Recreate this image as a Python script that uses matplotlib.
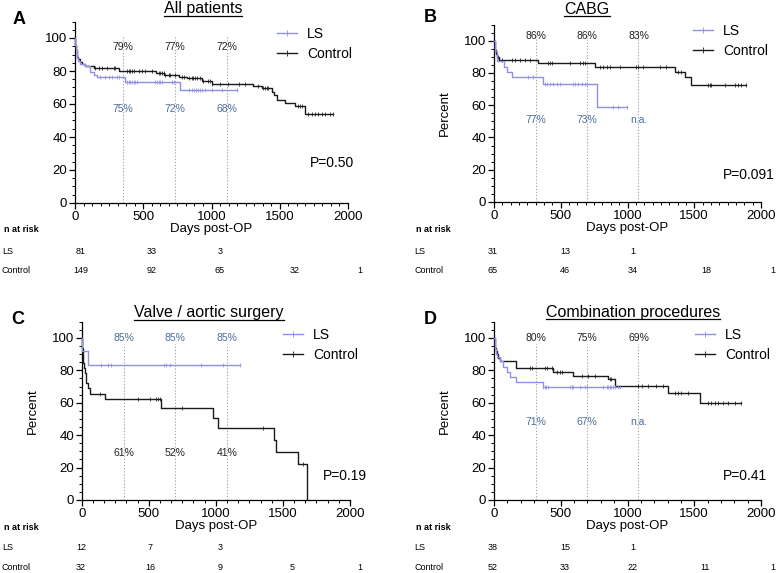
import numpy as np
import matplotlib
matplotlib.use("Agg")
import matplotlib.pyplot as plt
from matplotlib.lines import Line2D
from matplotlib.ticker import MultipleLocator

plt.rcParams["font.family"] = ["Liberation Sans", "DejaVu Sans"]

W, H = 778, 573
LS_COLOR = "#8f8fe6"
CTRL_COLOR = "#1a1a1a"
LS_TEXT = "#4a6d9c"

# ---- Kaplan-Meier curves: (event day, survival % after it), last follow-up day, censor days ----
A_ls_t = [0, 3, 7, 12, 18, 25, 40, 76, 112, 137, 161, 368, 771]
A_ls_s = [100, 96, 92.5, 90, 88, 86, 84.5, 83, 79.6, 77.6, 76.6, 73.2, 68.5]
A_ls_end = 1185
A_ls_cens = [185, 222, 246, 270, 307, 320, 380, 392, 405, 418, 430, 442, 453, 588, 600,
             612, 624, 636, 710, 722, 832, 855, 870, 885, 900, 915, 930, 953, 1002, 1075, 1185]
A_ctrl_t = [0, 3, 7, 12, 18, 25, 35, 50, 75, 140, 320, 590, 650, 760, 820, 930, 1000,
            1305, 1370, 1440, 1455, 1480, 1540, 1612, 1685]
A_ctrl_s = [100, 96, 93, 90.5, 88.5, 87, 85.5, 84.5, 83.3, 81.7, 80.2, 78.6, 77.6, 76.3,
            75.6, 74, 72.2, 70.7, 69.5, 67.5, 65.5, 62.4, 60.4, 58.8, 53.7]
A_ctrl_end = 1893
A_ctrl_cens = [149, 173, 198, 234, 283, 295, 380, 393, 405, 417, 429, 466, 490, 515, 563,
               612, 624, 637, 649, 661, 685, 698, 734, 783, 795, 832, 856, 868, 880, 893,
               917, 941, 978, 990, 1002, 1063, 1124, 1198, 1246, 1344, 1380, 1393, 1405,
               1417, 1637, 1649, 1661, 1710, 1734, 1759, 1783, 1807, 1832, 1868, 1893]

B_ls_t = [0, 5, 10, 20, 75, 100, 132, 369, 773]
B_ls_s = [100, 96.8, 93.5, 87.5, 84, 80.8, 77.5, 73.3, 58.9]
B_ls_end = 993
B_ls_cens = [257, 295, 382, 395, 420, 445, 470, 494, 593, 606, 631, 656, 681, 693, 893, 930, 993]
B_ctrl_t = [0, 4, 8, 14, 22, 40, 332, 756, 1354, 1429, 1479]
B_ctrl_s = [100, 97, 94.5, 92, 90, 88, 86.3, 84, 80.8, 77.6, 72.5]
B_ctrl_end = 1890
B_ctrl_cens = [32, 57, 132, 157, 195, 232, 269, 406, 419, 431, 569, 643, 668, 681, 793, 818,
               843, 868, 943, 1067, 1080, 1117, 1242, 1292, 1379, 1404, 1604, 1617, 1629,
               1728, 1803, 1828, 1853, 1890]

C_ls_t = [0, 3, 47]
C_ls_s = [100, 91.7, 83.3]
C_ls_end = 1177
C_ls_cens = [142, 196, 221, 613, 631, 656, 892, 1053, 1177]
C_ctrl_t = [0, 2, 4, 6, 8, 10, 15, 22, 30, 35, 47, 60, 171, 594, 979, 1016, 1433, 1451, 1612, 1682]
C_ctrl_s = [100, 96.9, 93.8, 90.6, 87.5, 84.4, 81.3, 78.1, 75, 71.9, 68.8, 65.6, 62.2, 57,
            50.5, 44.4, 37, 29.6, 22.2, 0]
C_ctrl_end = 1682
C_ctrl_cens = [134, 420, 507, 556, 569, 581, 748, 1351, 1649]

D_ls_t = [0, 4, 8, 14, 22, 45, 70, 95, 120, 165, 369]
D_ls_s = [100, 96, 93, 90, 88, 86, 81.8, 78.7, 75.7, 73, 69.5]
D_ls_end = 943
D_ls_cens = [369, 380, 393, 406, 569, 581, 594, 643, 681, 693, 818, 843, 856, 868, 880,
             893, 905, 930, 943]
D_ctrl_t = [0, 4, 8, 12, 20, 30, 45, 165, 444, 594, 855, 905, 1304, 1541]
D_ctrl_s = [100, 96, 94, 92, 90, 87.5, 85.9, 81.2, 79.1, 76.7, 74.6, 70.6, 65.9, 59.6]
D_ctrl_end = 1853
D_ctrl_cens = [269, 282, 381, 394, 431, 469, 494, 506, 656, 706, 756, 868, 880, 1080, 1105,
               1155, 1217, 1267, 1354, 1379, 1404, 1454, 1604, 1629, 1654, 1679, 1716,
               1753, 1803, 1853]

# ---- survival estimates printed on the plots ----
A_marks = [353, 732, 1110]
A_ctrl_lbl = ["79%", "77%", "72%"]
A_ls_lbl = ["75%", "72%", "68%"]
B_marks = [312, 698, 1082]
B_ctrl_lbl = ["86%", "86%", "83%"]
B_ls_lbl = ["77%", "73%", "n.a."]
C_marks = [313, 697, 1082]
C_ctrl_lbl = ["61%", "52%", "41%"]
C_ls_lbl = ["85%", "85%", "85%"]
D_marks = [312, 698, 1082]
D_ctrl_lbl = ["80%", "75%", "69%"]
D_ls_lbl = ["71%", "67%", "n.a."]

# ---- numbers at risk ----
A_risk_ls = [81, 33, 3]
A_risk_ctrl = [149, 92, 65, 32, 1]
B_risk_ls = [31, 13, 1]
B_risk_ctrl = [65, 46, 34, 18, 1]
C_risk_ls = [12, 7, 3]
C_risk_ctrl = [32, 16, 9, 5, 1]
D_risk_ls = [38, 15, 1]
D_risk_ctrl = [52, 33, 22, 11, 1]


def fx(x):
    return x / W


def fy(y):
    return 1 - y / H


def km(ax, t, s, end, cens, color):
    tt = list(t) + [end]
    ss = list(s) + [s[-1]]
    ax.step(tt, ss, where="post", color=color, lw=1.0, clip_on=False, zorder=3)
    # censor ticks sit on the curve value at that day
    idx = np.searchsorted(np.array(t), np.array(cens), side="right") - 1
    cv = np.array(s)[idx]
    ax.plot(cens, cv, ls="none", marker="|", ms=3.2, mew=0.55, color=color,
            clip_on=False, zorder=3)


panels = [
    dict(letter="A", title="All patients", box=(75, 203, 348, 21.5), minor=62.5, ylabel=False,
         ls=(A_ls_t, A_ls_s, A_ls_end, A_ls_cens), ctrl=(A_ctrl_t, A_ctrl_s, A_ctrl_end, A_ctrl_cens),
         marks=A_marks, vtop=101, ctrl_lbl=A_ctrl_lbl, ctrl_y=94.7, ls_lbl=A_ls_lbl, ls_y=57,
         p="P=0.50", p_pos=(310, 163), leg=(277, 27), letter_pos=(19, 20), title_pos=(203, 13.5),
         risk_x=[81, 152, 220, 295, 360], risk_lab_x=2, risk_y=(230, 251, 271),
         risk_ls=A_risk_ls, risk_ctrl=A_risk_ctrl),
    dict(letter="B", title="CABG", box=(494, 202, 761, 24.6), minor=62.5, ylabel=True,
         ls=(B_ls_t, B_ls_s, B_ls_end, B_ls_cens), ctrl=(B_ctrl_t, B_ctrl_s, B_ctrl_end, B_ctrl_cens),
         marks=B_marks, vtop=105, ctrl_lbl=B_ctrl_lbl, ctrl_y=103, ls_lbl=B_ls_lbl, ls_y=51,
         p="P=0.091", p_pos=(723, 175), leg=(693, 24), letter_pos=(430, 18), title_pos=(587, 13.5),
         risk_x=[493, 565, 633, 706, 773], risk_lab_x=414, risk_y=(229, 251, 271),
         risk_ls=B_risk_ls, risk_ctrl=B_risk_ctrl),
    dict(letter="C", title="Valve / aortic surgery", box=(81.7, 500, 350, 321.7), minor=500 / 6,
         ylabel=True,
         ls=(C_ls_t, C_ls_s, C_ls_end, C_ls_cens), ctrl=(C_ctrl_t, C_ctrl_s, C_ctrl_end, C_ctrl_cens),
         marks=C_marks, vtop=96, ctrl_lbl=C_ctrl_lbl, ctrl_y=29, ls_lbl=C_ls_lbl, ls_y=100,
         p="P=0.19", p_pos=(323, 476), leg=(283, 328), letter_pos=(18, 320), title_pos=(209, 317.5),
         risk_x=[81, 150, 220, 292, 360], risk_lab_x=2, risk_y=(527, 547, 568),
         risk_ls=C_risk_ls, risk_ctrl=C_risk_ctrl),
    dict(letter="D", title="Combination procedures", box=(494, 500, 761, 321.7), minor=100,
         ylabel=True,
         ls=(D_ls_t, D_ls_s, D_ls_end, D_ls_cens), ctrl=(D_ctrl_t, D_ctrl_s, D_ctrl_end, D_ctrl_cens),
         marks=D_marks, vtop=96, ctrl_lbl=D_ctrl_lbl, ctrl_y=100, ls_lbl=D_ls_lbl, ls_y=48,
         p="P=0.41", p_pos=(723, 476), leg=(695, 328), letter_pos=(430, 320), title_pos=(633, 317),
         risk_x=[493, 565, 633, 705, 773], risk_lab_x=414, risk_y=(528, 548, 568),
         risk_ls=D_risk_ls, risk_ctrl=D_risk_ctrl),
]

fig = plt.figure(figsize=(W / 100, H / 100), dpi=100)
titles = []

for p in panels:
    x0, yb, x1, yt = p["box"]
    ax = fig.add_axes([fx(x0), fy(yb), (x1 - x0) / W, (yb - yt) / H])
    ax.set_xlim(0, 2000)
    ax.set_ylim(0, 110)
    for sp in ("top", "right"):
        ax.spines[sp].set_visible(False)
    for sp in ("left", "bottom"):
        ax.spines[sp].set_linewidth(0.9)
    ax.set_yticks([0, 20, 40, 60, 80, 100])
    ax.set_xticks([0, 500, 1000, 1500, 2000])
    ax.yaxis.set_minor_locator(MultipleLocator(5))
    ax.xaxis.set_minor_locator(MultipleLocator(p["minor"]))
    ax.tick_params(which="major", direction="out", length=4, width=0.9, labelsize=9.5, pad=1.5)
    ax.tick_params(which="minor", direction="out", length=2, width=0.7)
    ax.set_xlabel("Days post-OP", fontsize=9.5, labelpad=0)
    if p["ylabel"]:
        ax.set_ylabel("Percent", fontsize=9.5)
        ax.yaxis.set_label_coords(-0.16, 0.5)

    for m, tc, tl in zip(p["marks"], p["ctrl_lbl"], p["ls_lbl"]):
        ax.plot([m, m], [0, p["vtop"]], ls=(0, (1.2, 1.6)), lw=0.8, color="#a8a8a8", zorder=1)
        ax.text(m, p["ctrl_y"], tc, ha="center", va="center", fontsize=7.5, color="#222222")
        ax.text(m, p["ls_y"], tl, ha="center", va="center", fontsize=7.5, color=LS_TEXT)

    km(ax, *p["ctrl"], CTRL_COLOR)
    km(ax, *p["ls"], LS_COLOR)

    handles = [Line2D([], [], color=LS_COLOR, lw=1.0, marker="|", ms=4, mew=0.6),
               Line2D([], [], color=CTRL_COLOR, lw=1.0, marker="|", ms=4, mew=0.6)]
    lx, ly = p["leg"]
    fig.legend(handles, ["LS", "Control"], loc="upper left",
               bbox_to_anchor=(fx(lx), fy(ly)), bbox_transform=fig.transFigure,
               frameon=False, fontsize=10, handlelength=1.45, handletextpad=0.7,
               labelspacing=0.42, borderpad=0, borderaxespad=0, numpoints=1)

    px_, py_ = p["p_pos"]
    fig.text(fx(px_), fy(py_), p["p"], ha="left", va="center", fontsize=10)

    lx_, ly_ = p["letter_pos"]
    fig.text(fx(lx_), fy(ly_), p["letter"], ha="center", va="center", fontsize=13,
             fontweight="bold")
    tx, ty = p["title_pos"]
    titles.append(fig.text(fx(tx), fy(ty), p["title"], ha="center", va="baseline", fontsize=11.5))

    # numbers at risk table
    ry0, ry1, ry2 = p["risk_y"]
    fig.text(fx(p["risk_lab_x"] + 2), fy(ry0), "n at risk", ha="left", va="center",
             fontsize=6.5, fontweight="bold")
    fig.text(fx(p["risk_lab_x"]), fy(ry1), "LS", ha="left", va="center", fontsize=6.5)
    fig.text(fx(p["risk_lab_x"]), fy(ry2), "Control", ha="left", va="center", fontsize=6.5)
    for xx, n in zip(p["risk_x"], p["risk_ls"]):
        fig.text(fx(xx), fy(ry1), str(n), ha="center", va="center", fontsize=6.5)
    for xx, n in zip(p["risk_x"], p["risk_ctrl"]):
        fig.text(fx(xx), fy(ry2), str(n), ha="center", va="center", fontsize=6.5)

# underline the panel titles
fig.canvas.draw()
renderer = fig.canvas.get_renderer()
for t in titles:
    bb = t.get_window_extent(renderer)
    _, yb = t.get_position()
    yl = yb - 2.0 / H
    fig.add_artist(Line2D([bb.x0 / W, bb.x1 / W], [yl, yl], color="black", lw=0.9,
                          transform=fig.transFigure))

fig.savefig("out.png", dpi=100)
